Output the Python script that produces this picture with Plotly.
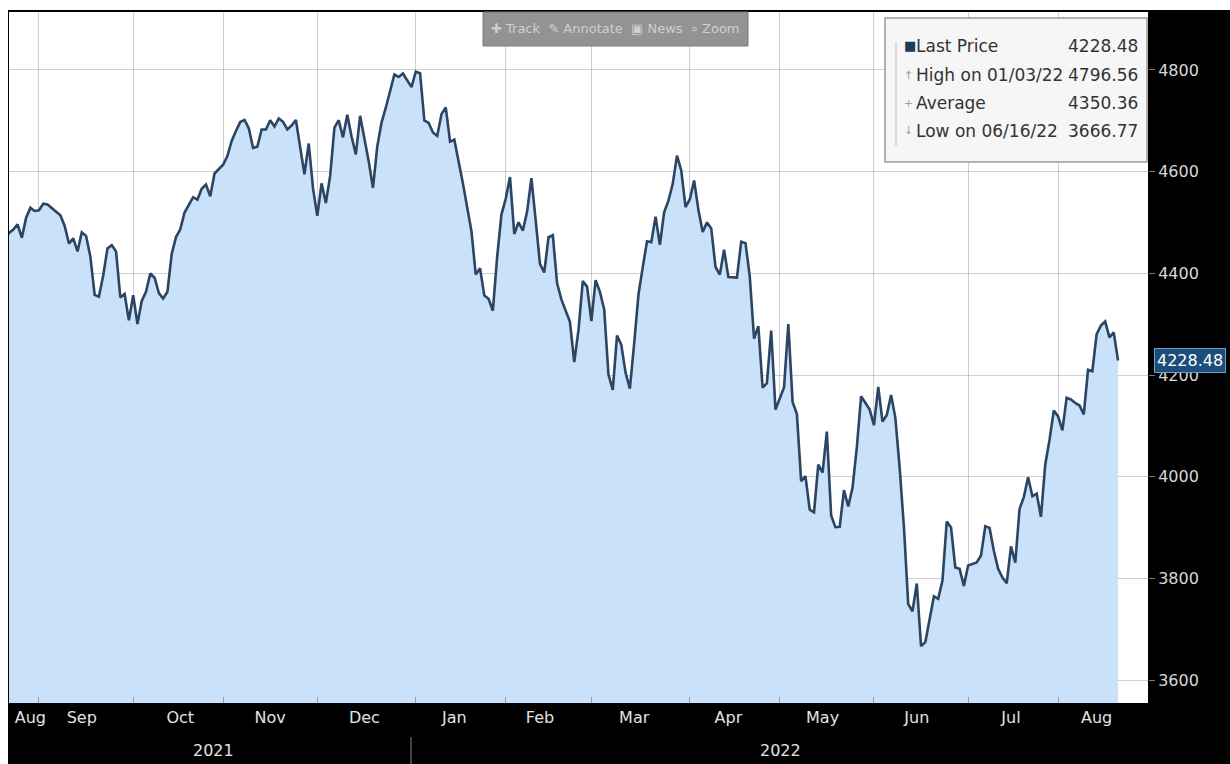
import pandas as pd
import plotly.graph_objects as go

# ---- data (S&P 500 daily closes) ----
aug21 = [4441.67, 4479.53, 4486.23, 4496.19, 4470.00, 4509.37, 4528.79, 4522.68]
sep21 = [4524.09, 4536.95, 4535.43, 4520.03, 4514.07, 4493.28, 4458.58, 4468.73, 4443.05, 4480.70,
         4473.75, 4432.99, 4357.73, 4354.19, 4395.64, 4448.98, 4455.48, 4443.11, 4352.63, 4359.46, 4307.54]
oct21 = [4357.04, 4300.46, 4345.72, 4363.55, 4399.76, 4391.34, 4361.19, 4350.65, 4363.80, 4438.26,
         4471.37, 4486.46, 4519.63, 4536.19, 4549.78, 4544.90, 4566.48, 4574.79, 4551.68, 4596.42, 4605.38]
nov21 = [4613.67, 4630.65, 4660.57, 4680.06, 4697.53, 4701.70, 4685.25, 4646.71, 4649.27, 4682.85,
         4682.80, 4700.90, 4688.67, 4704.54, 4697.96, 4682.94, 4690.70, 4701.46, 4594.62, 4655.27, 4567.00]
dec21 = [4513.04, 4577.10, 4538.43, 4591.67, 4686.75, 4701.21, 4667.45, 4712.02, 4668.97, 4634.09,
         4709.85, 4668.67, 4620.64, 4568.02, 4649.23, 4696.56, 4725.79, 4791.19, 4786.35, 4793.06,
         4778.73, 4766.18]
jan22 = [4796.56, 4793.54, 4700.58, 4696.05, 4677.03, 4670.29, 4713.07, 4726.35, 4659.03, 4662.85,
         4577.11, 4532.76, 4482.73, 4397.94, 4410.13, 4356.45, 4349.93, 4326.51, 4431.85, 4515.55]
feb22 = [4546.54, 4589.38, 4477.44, 4500.53, 4483.87, 4521.54, 4587.18, 4504.08, 4418.64, 4401.67,
         4471.07, 4475.01, 4380.26, 4348.87, 4304.76, 4225.50, 4288.70, 4384.65, 4373.94]
mar22 = [4306.26, 4386.54, 4363.49, 4328.87, 4201.09, 4170.70, 4277.88, 4259.52, 4204.31, 4173.11,
         4262.45, 4357.86, 4411.67, 4463.12, 4461.18, 4511.61, 4456.24, 4520.16, 4543.06, 4575.52,
         4631.60, 4602.45, 4530.41]
apr22 = [4545.86, 4582.64, 4525.12, 4481.15, 4500.21, 4488.28, 4412.53, 4397.45, 4446.59, 4392.59,
         4391.69, 4462.21, 4459.45, 4393.66, 4271.78, 4296.12, 4175.20, 4183.96, 4287.50, 4131.93]
may22 = [4155.38, 4175.48, 4300.17, 4146.87, 4123.34, 3991.24, 4001.05, 3935.18, 3930.08, 4023.89,
         4008.01, 4088.85, 3923.68, 3900.79, 3901.36, 3973.75, 3941.48, 3978.73, 4057.84, 4158.24, 4132.15]
jun22 = [4101.23, 4176.82, 4108.54, 4121.43, 4160.68, 4115.77, 4017.82, 3900.86, 3749.63, 3735.48,
         3789.99, 3666.77, 3674.84, 3764.79, 3759.89, 3795.73, 3911.74, 3900.11, 3821.55, 3818.83, 3785.38]
jul22 = [3825.33, 3831.39, 3845.08, 3902.62, 3899.38, 3854.43, 3818.80, 3801.78, 3790.38, 3863.16,
         3830.85, 3936.69, 3959.90, 3998.95, 3961.63, 3966.84, 3921.05, 4023.61, 4072.43, 4130.29]
aug22 = [4118.63, 4091.19, 4155.17, 4151.94, 4145.19, 4140.06, 4122.47, 4210.24, 4207.27, 4280.15,
         4297.14, 4305.20, 4274.04, 4283.74, 4228.48]

market_holidays = ["2021-09-06", "2021-11-25", "2021-12-24", "2022-01-17", "2022-02-21",
                   "2022-04-15", "2022-05-30", "2022-06-20", "2022-07-04"]

month_starts = ["2021-09-01", "2021-10-01", "2021-11-01", "2021-12-01", "2022-01-03", "2022-02-01",
                "2022-03-01", "2022-04-01", "2022-05-02", "2022-06-01", "2022-07-01", "2022-08-01"]
month_label_dates = ["2021-08-30", "2021-09-15", "2021-10-18", "2021-11-16", "2021-12-16", "2022-01-14",
                     "2022-02-11", "2022-03-15", "2022-04-14", "2022-05-16", "2022-06-15", "2022-07-15",
                     "2022-08-12"]
month_labels = ["Aug", "Sep", "Oct", "Nov", "Dec", "Jan", "Feb", "Mar", "Apr", "May", "Jun", "Jul", "Aug"]
year_labels = ["2021", "2022"]
y_ticks = [3600, 3800, 4000, 4200, 4400, 4600, 4800]

legend_labels = ["Last Price", "High on 01/03/22", "Average", "Low on 06/16/22"]
legend_values = ["4228.48", "4796.56", "4350.36", "3666.77"]
legend_marks = ["■", "↑", "+", "↓"]
last_price = 4228.48

closes = aug21 + sep21 + oct21 + nov21 + dec21 + jan22 + feb22 + mar22 + apr22 + may22 + jun22 + jul22 + aug22
dates = pd.bdate_range("2021-08-20", "2022-08-19", freq="C", holidays=market_holidays)
dates = [d.strftime("%Y-%m-%d") for d in dates][:len(closes)]

# ---- pixel layout helpers ----
W, H = 1230, 764
ML, MR, MT, MB = 9, 82, 12, 61
PW, PH = W - ML - MR, H - MT - MB


def px(x):
    return (x - ML) / PW


def py(y):
    return (H - MB - y) / PH


FONT = "DejaVu Sans, Liberation Sans, sans-serif"
GRID = "rgba(100,110,120,0.32)"

fig = go.Figure()
fig.add_trace(go.Scatter(
    x=dates, y=closes, mode="lines",
    line=dict(color="#2b4562", width=2.6),
    fill="tozeroy", fillcolor="#c9e2fa",
    hoverinfo="skip", showlegend=False,
))

shapes = [
    # white frame strips outside the black chart frame
    dict(type="rect", xref="paper", yref="paper", x0=px(0), x1=px(W), y0=py(10), y1=py(0),
         fillcolor="white", line=dict(width=0)),
    dict(type="rect", xref="paper", yref="paper", x0=px(0), x1=px(ML - 1), y0=py(H), y1=py(0),
         fillcolor="white", line=dict(width=0)),
    # toolbar
    dict(type="rect", xref="paper", yref="paper", x0=px(483), x1=px(748), y0=py(46), y1=py(12),
         fillcolor="#939393", line=dict(color="#7a7a7a", width=1)),
    # legend box
    dict(type="rect", xref="paper", yref="paper", x0=px(885), x1=px(1147), y0=py(162), y1=py(18),
         fillcolor="rgba(246,246,246,0.95)", line=dict(color="#9a9a9a", width=1.5)),
    dict(type="line", xref="paper", yref="paper", x0=px(896), x1=px(896), y0=py(146), y1=py(42),
         line=dict(color="#b8b8b8", width=1)),
    # year separator in the date bar
    dict(type="line", xref="paper", yref="paper", x0=px(411), x1=px(411), y0=py(764), y1=py(737),
         line=dict(color="#5a5a5a", width=1.5)),
]

annotations = [
    dict(xref="paper", yref="paper", x=px(615), y=py(29), text="✚ Track  ✎ Annotate  ▣ News  ⌕ Zoom",
         showarrow=False, font=dict(family=FONT, size=13, color="#cfcfcf"), xanchor="center", yanchor="middle"),
]
row_y = [46, 75, 103, 131]
for i, (lab, val, mk) in enumerate(zip(legend_labels, legend_values, legend_marks)):
    annotations.append(dict(xref="paper", yref="paper", x=px(902), y=py(row_y[i]), text=mk,
                            showarrow=False, xanchor="left", yanchor="middle",
                            font=dict(family=FONT, size=13 if i == 0 else 11,
                                      color="#1e3a5c" if i == 0 else "#a0a0a0")))
    annotations.append(dict(xref="paper", yref="paper", x=px(914), y=py(row_y[i]), text=lab,
                            showarrow=False, xanchor="left", yanchor="middle",
                            font=dict(family=FONT, size=17, color="#333333")))
    annotations.append(dict(xref="paper", yref="paper", x=px(1140), y=py(row_y[i]), text=val,
                            showarrow=False, xanchor="right", yanchor="middle",
                            font=dict(family=FONT, size=17, color="#333333")))
for lab, xc in zip(year_labels, [213, 780]):
    annotations.append(dict(xref="paper", yref="paper", x=px(xc), y=py(750), text=lab,
                            showarrow=False, xanchor="center", yanchor="middle",
                            font=dict(family=FONT, size=16, color="#e2e2e2")))
annotations.append(dict(xref="paper", yref="y", x=1, y=last_price, text=str(last_price),
                        showarrow=False, xanchor="left", yanchor="middle", xshift=6,
                        bgcolor="#1d4d7a", bordercolor="#6f9dca", borderwidth=1, borderpad=2,
                        font=dict(family=FONT, size=16, color="white")))

fig.update_layout(
    width=W, height=H,
    margin=dict(l=ML, r=MR, t=MT, b=MB),
    paper_bgcolor="black", plot_bgcolor="white",
    hovermode=False,
    shapes=shapes, annotations=annotations,
    xaxis=dict(
        type="date",
        range=["2021-08-23", "2022-08-30"],
        rangebreaks=[dict(bounds=["sat", "mon"])],
        tickmode="array", tickvals=month_label_dates, ticktext=month_labels,
        ticks="", showgrid=False, zeroline=False, showline=False,
        tickfont=dict(family=FONT, size=16, color="#e2e2e2"),
        ticklabelstandoff=3,
        layer="above traces",
        minor=dict(tickmode="array", tickvals=month_starts, showgrid=True, gridcolor=GRID, gridwidth=1,
                   ticks="inside", ticklen=6, tickcolor="#9a9a9a"),
    ),
    yaxis=dict(
        side="right", range=[3555, 4914],
        tickmode="array", tickvals=y_ticks, ticktext=[str(v) for v in y_ticks],
        showgrid=True, gridcolor=GRID, gridwidth=1, zeroline=False, showline=False,
        ticks="outside", ticklen=6, tickcolor="#777777",
        tickfont=dict(family=FONT, size=16, color="#d8d8d8"),
        layer="above traces",
    ),
)

fig.write_html("out.html")
